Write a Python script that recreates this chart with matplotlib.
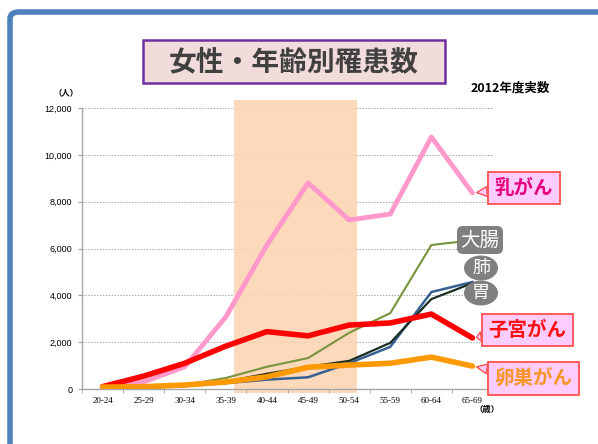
import matplotlib.pyplot as plt
from matplotlib.patches import FancyBboxPatch, Rectangle, Ellipse
import numpy as np

ages = ['20-24', '25-29', '30-34', '35-39', '40-44', '45-49', '50-54', '55-59', '60-64', '65-69']
breast = [60, 300, 950, 3080, 6150, 8800, 7220, 7470, 10760, 8370]
uterus = [100, 550, 1100, 1830, 2450, 2270, 2730, 2820, 3200, 2180]
ovary = [80, 100, 170, 300, 520, 930, 1020, 1100, 1360, 980]
colon = [40, 80, 180, 470, 950, 1320, 2400, 3240, 6150, 6350]
lung = [20, 60, 130, 250, 400, 500, 1100, 1800, 4140, 4570]
stomach = [20, 50, 120, 320, 650, 950, 1200, 1970, 3840, 4520]
yticks = [0, 2000, 4000, 6000, 8000, 10000, 12000]

W, H = 598, 444
JP = ['Noto Sans CJK JP', 'DejaVu Sans']

def px(x, y):
    return x / W, 1 - y / H

fig = plt.figure(figsize=(W / 100, H / 100), dpi=100)
fig.patch.set_facecolor('white')

# blue frame (right/bottom run off the canvas)
frame = FancyBboxPatch(px(10, 460), 640 / W, 448 / H, boxstyle='round,pad=0,rounding_size=0.015',
                       transform=fig.transFigure, fc='none', ec='#4f81bd', lw=4, zorder=0)
fig.patches.append(frame)

ax = fig.add_axes([82 / W, 1 - 389 / H, 411 / W, 281 / H])
x = np.arange(len(ages))

# highlighted age band
ax.add_patch(Rectangle((3.2, -170), 3.0, 12510, fc='#fcd5b4', ec='none', alpha=0.9,
                       clip_on=False, zorder=1.5))

ax.plot(x, colon, color='#77933c', lw=1.5, zorder=3)
ax.plot(x, lung, color='#376092', lw=1.8, zorder=3)
ax.plot(x, stomach, color='#1c2d24', lw=1.6, zorder=3.1)
ax.plot(x, ovary, color='#ff9900', lw=4, zorder=4, solid_capstyle='round')
ax.plot(x, breast, color='#ff99cc', lw=3.5, zorder=3.5, solid_capstyle='round')
ax.plot(x, uterus, color='#ff0000', lw=4, zorder=3.8, solid_capstyle='round')

ax.set_xlim(-0.5, len(ages) - 0.5)
ax.set_ylim(0, 12000)
ax.set_yticks(yticks)
ax.set_yticklabels([f'{v:,}' for v in yticks], fontsize=6.5, family='Liberation Sans')
ax.set_xticks(x)
ax.set_xticklabels(ages, fontsize=6.5, family='Liberation Serif')
ax.set_xticks(np.arange(-0.5, len(ages), 1), minor=True)
ax.tick_params(axis='x', which='major', length=0, pad=6)
ax.tick_params(axis='x', which='minor', length=3, color='#a0a0a0')
ax.tick_params(axis='y', length=3, color='#a0a0a0', pad=4)
for v in yticks[1:]:
    ax.axhline(v, color='#a6a6a6', lw=0.7, ls=(0, (1.5, 1.5)), zorder=1)
for s in ['top', 'right']:
    ax.spines[s].set_visible(False)
for s in ['left', 'bottom']:
    ax.spines[s].set_color('#a6a6a6')
    ax.spines[s].set_linewidth(1)

# title
fig.patches.append(Rectangle(px(143, 83), 302 / W, 43 / H, transform=fig.transFigure,
                             fc='#f2dcdb', ec='#7030a0', lw=1.8, zorder=1))
fig.text(*px(294, 62), '女性・年齢別罹患数', ha='center', va='center', fontsize=20, fontweight='bold',
         color='#404040', family=JP, zorder=2)
fig.text(*px(66, 93), '（人）', ha='center', va='center', fontsize=6, family=JP, fontweight='bold')
fig.text(*px(510, 88), '2012年度実数', ha='center', va='center', fontsize=9, family=JP, fontweight='bold')
fig.text(*px(487, 409), '（歳）', ha='center', va='center', fontsize=6, family=JP, fontweight='bold')

# callout labels
def callout(label, yval, dx, dy, tcolor):
    ax.annotate(label, xy=(9, yval), xytext=(dx, dy), textcoords='offset pixels',
                ha='left', va='center', fontsize=14, fontweight='bold', color=tcolor, family=JP,
                bbox=dict(boxstyle='square,pad=0.35', fc='#ffccff', ec='#ff5050', lw=1.3),
                arrowprops=dict(arrowstyle='wedge,tail_width=0.5,shrink_factor=0.5', fc='#ffccff',
                                ec='#ff5050', lw=1.0, shrinkA=0, shrinkB=3),
                annotation_clip=False, zorder=6)

callout('乳がん', breast[-1], 22, 5, '#e6007e')
callout('子宮がん', uterus[-1], 16, 8, '#ff1010')
callout('卵巣がん', ovary[-1], 22, -12, '#f79628')

fig.text(*px(480, 240), '大腸', ha='center', va='center', fontsize=14, color='white', family=JP,
         bbox=dict(boxstyle='round,pad=0.18,rounding_size=0.3', fc='#808080', ec='none'))
for lab, yy in [('肺', 268), ('胃', 293)]:
    fig.patches.append(Ellipse(px(481, yy), 34 / W, 25 / H, transform=fig.transFigure,
                               fc='#808080', ec='none', zorder=5))
    fig.text(*px(481, yy), lab, ha='center', va='center', fontsize=13, color='white',
             family=JP, zorder=6)

fig.savefig('out.png', dpi=100, facecolor='white')
